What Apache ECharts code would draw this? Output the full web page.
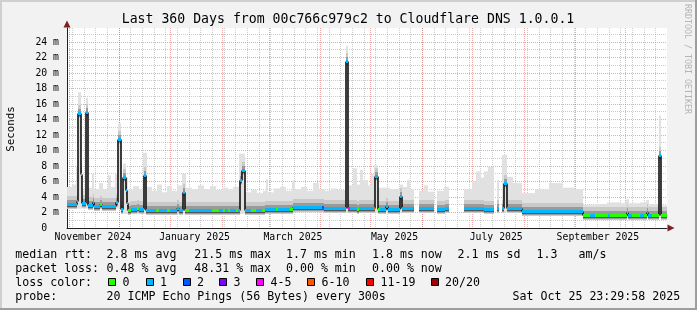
<!DOCTYPE html>
<html><head><meta charset="utf-8">
<script src="https://cdn.jsdelivr.net/npm/echarts@6/dist/echarts.min.js"></script>
<style>html,body{margin:0;padding:0;background:#f2f2f2}#c{width:697px;height:310px}</style>
</head><body><div id="c"></div>
<script>
// ---------------- data ----------------
const startTime = '2024-10-30T23:29:58';
const endTime = '2025-10-25T23:29:58';
const yMax = 25.8;

const monthStarts = ['2024-11-01','2024-12-01','2025-01-01','2025-02-01','2025-03-01','2025-04-01',
  '2025-05-01','2025-06-01','2025-07-01','2025-08-01','2025-09-01','2025-10-01'];
const firstWeekLine = '2024-11-03';
const monthLabelDates = ['2024-11-15T12:00','2025-01-15T12:00','2025-03-15T12:00','2025-05-15T12:00','2025-07-15T12:00','2025-09-14T12:00'];
const monthLabels = ['November 2024','January 2025','March 2025','May 2025','July 2025','September 2025'];

// median rtt (ms), segment start times, loss class index
const medTimes = ['2024-10-30T23:30','2024-11-06T00:00','2024-11-06T21:00','2024-11-08T02:00','2024-11-09T00:00',
 '2024-11-11T02:00','2024-11-12T14:00','2024-11-15T07:00','2024-11-16T05:00','2024-11-19T19:00',
 '2024-11-21T00:00','2024-11-29T02:00','2024-11-30T07:00','2024-12-02T02:00','2024-12-03T14:00',
 '2024-12-05T02:00','2024-12-05T17:00','2024-12-06T07:00','2024-12-08T10:00','2024-12-12T00:00',
 '2024-12-13T05:00','2024-12-15T22:00','2024-12-17T10:00','2024-12-23T10:00','2024-12-25T05:00',
 '2024-12-30T00:00','2024-12-31T19:00','2025-01-05T00:00','2025-01-05T22:00','2025-01-08T14:00',
 '2025-01-09T19:00','2025-01-12T05:00','2025-01-26T00:00','2025-01-30T05:00','2025-02-01T14:00',
 '2025-02-02T19:00','2025-02-04T14:00','2025-02-05T19:00','2025-02-09T10:00','2025-02-10T14:00',
 '2025-02-11T19:00','2025-02-12T17:00','2025-02-14T12:00','2025-02-18T10:00','2025-02-21T10:00',
 '2025-02-25T00:00','2025-02-26T19:00','2025-03-05T10:00','2025-03-06T14:00','2025-03-13T19:00',
 '2025-03-15T14:00','2025-04-02T00:00','2025-04-03T05:00','2025-04-16T02:00','2025-04-17T14:00',
 '2025-04-18T19:00','2025-04-23T00:00','2025-04-24T05:00','2025-05-02T22:00','2025-05-03T19:00',
 '2025-05-05T07:00','2025-05-06T19:00','2025-05-10T10:00','2025-05-11T14:00','2025-05-18T19:00',
 '2025-05-20T00:00','2025-05-26T07:00','2025-05-27T05:00','2025-05-29T22:00','2025-06-07T22:00',
 '2025-06-10T00:00','2025-06-12T10:00','2025-06-14T19:00','2025-06-17T05:00','2025-06-25T22:00',
 '2025-07-08T05:00','2025-07-13T22:00','2025-07-15T17:00','2025-07-17T05:00','2025-07-19T00:00',
 '2025-07-20T05:00','2025-07-21T17:00','2025-07-30T17:00','2025-09-05T19:00','2025-09-10T00:00',
 '2025-09-13T00:00','2025-09-20T19:00','2025-09-22T00:00','2025-10-01T17:00','2025-10-02T14:00',
 '2025-10-05T00:00','2025-10-09T19:00','2025-10-12T05:00','2025-10-13T17:00','2025-10-14T14:00',
 '2025-10-17T00:00','2025-10-20T22:00','2025-10-22T10:00'];
const medValues = [3.1,3.5,14.8,7.0,3.2,
 15.0,3.0,3.4,2.9,3.1,
 2.85,3.3,11.5,2.4,6.6,
 4.9,3.2,2.3,2.4,2.6,
 2.4,6.8,2.3,2.3,2.3,
 2.3,2.3,2.6,2.3,4.7,
 2.3,2.3,2.3,2.3,2.3,
 2.3,2.3,2.3,2.3,2.3,
 6.2,7.5,2.3,2.3,2.3,
 2.3,2.4,2.4,2.5,2.4,
 2.75,2.75,2.6,21.5,2.6,
 2.6,2.5,2.6,2.6,6.7,
 2.5,2.5,2.9,2.5,4.1,
 2.6,2.6,null,2.6,null,
 2.5,2.4,2.6,null,2.6,
 2.5,null,2.6,null,2.6,
 5.85,2.6,2.2,1.7,1.7,
 1.7,1.7,1.7,2.0,1.7,
 1.7,1.7,1.7,2.1,1.7,
 1.7,9.4,1.7];
const medLoss = [1,1,1,1,1,
 1,1,1,1,0,
 1,1,1,1,1,
 1,1,0,1,0,
 1,1,1,0,1,
 0,1,1,1,1,
 0,1,0,1,0,
 1,0,1,0,1,
 1,1,1,0,1,
 0,1,0,1,0,
 1,2,1,1,4,
 1,0,1,5,1,
 0,1,1,1,1,
 1,5,null,1,null,
 1,1,1,null,1,
 1,null,1,null,1,
 1,1,1,0,1,
 0,1,0,0,1,
 0,1,0,1,1,
 0,1,0];

// smoke (ping spread) : segment start, lowest and highest rtt (ms)
const smokeTimes = ['2024-10-30T23:30','2024-11-03T00:00','2024-11-05T10:00','2024-11-06T21:00','2024-11-08T02:00',
 '2024-11-09T00:00','2024-11-11T02:00','2024-11-12T14:00','2024-11-15T00:00','2024-11-16T05:00',
 '2024-11-19T05:00','2024-11-21T14:00','2024-11-24T14:00','2024-11-26T10:00','2024-11-28T19:00',
 '2024-11-30T07:00','2024-12-02T02:00','2024-12-03T07:00','2024-12-05T02:00','2024-12-06T07:00',
 '2024-12-09T14:00','2024-12-13T05:00','2024-12-15T14:00','2024-12-17T17:00','2024-12-21T00:00',
 '2024-12-24T00:00','2024-12-27T00:00','2024-12-30T00:00','2025-01-02T00:00','2025-01-05T00:00',
 '2025-01-08T00:00','2025-01-10T02:00','2025-01-14T00:00','2025-01-17T14:00','2025-01-21T05:00',
 '2025-01-24T19:00','2025-01-28T10:00','2025-02-01T00:00','2025-02-04T14:00','2025-02-07T14:00',
 '2025-02-11T05:00','2025-02-14T19:00','2025-02-18T10:00','2025-02-22T00:00','2025-02-25T14:00',
 '2025-02-27T10:00','2025-02-28T14:00','2025-03-04T05:00','2025-03-07T19:00','2025-03-11T10:00',
 '2025-03-15T00:00','2025-03-16T19:00','2025-03-20T10:00','2025-03-24T00:00','2025-03-27T14:00',
 '2025-03-31T05:00','2025-04-03T19:00','2025-04-07T10:00','2025-04-11T00:00','2025-04-16T02:00',
 '2025-04-17T14:00','2025-04-20T14:00','2025-04-23T00:00','2025-04-24T19:00','2025-04-26T14:00',
 '2025-04-29T14:00','2025-05-01T10:00','2025-05-03T05:00','2025-05-05T14:00','2025-05-12T19:00',
 '2025-05-18T12:00','2025-05-20T07:00','2025-05-23T00:00','2025-05-24T19:00','2025-05-27T05:00',
 '2025-05-29T22:00','2025-06-02T10:00','2025-06-04T19:00','2025-06-07T22:00','2025-06-10T00:00',
 '2025-06-14T05:00','2025-06-17T05:00','2025-06-25T22:00','2025-07-01T00:00','2025-07-03T10:00',
 '2025-07-06T10:00','2025-07-08T05:00','2025-07-10T14:00','2025-07-13T22:00','2025-07-15T17:00',
 '2025-07-17T05:00','2025-07-19T00:00','2025-07-21T17:00','2025-07-25T14:00','2025-07-30T17:00',
 '2025-08-08T00:00','2025-08-16T05:00','2025-08-24T00:00','2025-08-31T19:00','2025-09-05T19:00',
 '2025-09-13T00:00','2025-09-20T05:00','2025-09-28T10:00','2025-10-01T10:00','2025-10-02T22:00',
 '2025-10-09T19:00','2025-10-13T10:00','2025-10-15T05:00','2025-10-20T22:00','2025-10-22T10:00'];
const smokeLow = [2.5,2.5,2.5,2.5,2.5, 2.5,2.5,2.5,2.5,2.5, 2.5,2.5,2.5,2.5,2.5, 2.5,1.8,1.8,1.8,1.8,
 1.8,1.8,1.8,1.8,1.8, 1.8,1.8,1.8,1.8,1.8, 1.8,1.8,1.8,1.8,1.8, 1.8,1.8,1.8,1.8,1.8,
 1.8,1.8,1.8,1.8,1.8, 1.8,1.8,1.8,1.8,1.8, 2.0,2.0,2.0,2.0,2.0, 2.0,2.0,2.0,2.0,2.0,
 2.0,2.0,2.0,2.0,2.0, 2.0,2.0,2.0,2.0,2.0, 2.0,2.0,2.0,2.0,null, 2.0,2.0,2.0,null,2.0,
 2.0,null,2.0,2.0,2.0, 2.0,2.0,2.0,null,2.0, null,2.0,2.0,2.0,1.6, 1.6,1.6,1.6,1.6,1.3,
 1.3,1.3,1.3,1.3,1.3, 1.3,1.3,1.3,1.3,1.3];
const smokeHigh = [5.3,5.6,7.9,17.5,8.4, 5.0,16.8,5.2,7.0,5.0, 5.8,5.0,6.8,5.3,7.0, 13.5,5.0,8.3,6.5,5.0,
 5.4,5.0,9.7,5.3,4.8, 5.6,4.6,5.4,4.8,5.5, 7.0,5.2,5.0,5.5,5.0, 5.4,4.9,5.2,5.0,5.3,
 9.6,4.6,4.9,4.5,4.8, 6.3,4.6,5.1,5.3,4.8, 6.1,5.0,5.3,4.8,5.8, 5.0,4.8,5.1,4.9,23.5,
 5.5,7.7,5.6,7.5,6.2, 5.5,7.0,8.1,5.2,5.0, 5.6,5.3,6.2,5.0,null, 4.8,5.5,4.7,null,4.8,
 5.3,null,5.0,6.0,7.3, 6.5,7.3,7.9,null,6.2, null,9.4,6.6,5.8,4.5, 5.0,5.8,5.2,5.0,3.0,
 3.1,3.3,3.2,3.7,3.2, 3.3,3.6,3.1,14.5,2.9];

const lossColors = ['#26ff00','#00b8ff','#0059ff','#7e00ff','#ff00ff','#ff5500','#ff0000','#a10000'];
const lossLabels = ['0','1','2','3','4-5','6-10','11-19','20/20'];

const titleText = 'Last 360 Days from 00c766c979c2 to Cloudflare DNS 1.0.0.1';
const statLabels = ['median rtt:','packet loss:','loss color:','probe:'];
const rttStats = ['2.8 ms avg','21.5 ms max','1.7 ms min','1.8 ms now','2.1 ms sd','1.3   am/s'];
const lossStats = ['0.48 % avg','48.31 % max','0.00 % min','0.00 % now'];
const probeText = '20 ICMP Echo Pings (56 Bytes) every 300s';
const dateText = 'Sat Oct 25 23:29:58 2025';

// ---------------- build ----------------
const FONT = '"DejaVu Sans Mono", monospace';
const T = s => new Date(s.length === 10 ? s + 'T00:00' : s).getTime();
const tStart = T(startTime), tEnd = T(endTime);
const GRID = {left: 67, top: 28, width: 600, height: 200};
const MAJOR = 'rgba(222,79,79,0.5)', MINOR = 'rgba(143,143,143,0.45)';

const gridData = [];
for (let t = T(firstWeekLine); t < tEnd; t += 7 * 86400000) gridData.push([t, 0, 0]);
monthStarts.forEach(m => gridData.push([T(m), 0, 1]));

const smokeData = smokeTimes.map((t, i) => [T(t), i + 1 < smokeTimes.length ? T(smokeTimes[i + 1]) : tEnd, smokeLow[i], smokeHigh[i]]);
const medData = medTimes.map((t, i) => [T(t), i + 1 < medTimes.length ? T(medTimes[i + 1]) : tEnd, medValues[i], medLoss[i] == null ? 0 : medLoss[i]]);
const labelTs = monthLabelDates.map(T);

const chart = echarts.init(document.getElementById('c'), null, {renderer: 'canvas', width: 697, height: 310});

const graphics = [];
graphics.push({type: 'rect', shape: {x: 0, y: 0, width: 697, height: 2}, style: {fill: '#cfcfcf'}, silent: true});
graphics.push({type: 'rect', shape: {x: 0, y: 0, width: 2, height: 310}, style: {fill: '#cfcfcf'}, silent: true});
graphics.push({type: 'rect', shape: {x: 0, y: 308, width: 697, height: 2}, style: {fill: '#9e9e9e'}, silent: true});
graphics.push({type: 'rect', shape: {x: 695, y: 0, width: 2, height: 310}, style: {fill: '#9e9e9e'}, silent: true});
function txt(text, x, y, size, opts) {
  return Object.assign({type: 'text', x: x, y: y, silent: true, style: Object.assign({text: text, font: size + 'px ' + FONT, fill: '#000',
    align: 'left', verticalAlign: 'middle'}, (opts && opts.style) || {})}, (opts && opts.el) || {});
}
graphics.push(txt(titleText, 348, 19.5, 13.2, {style: {align: 'center'}}));
graphics.push(txt('Seconds', 11, 129, 10.8, {style: {align: 'center'}, el: {rotation: Math.PI / 2}}));
graphics.push(txt('RRDTOOL / TOBI OETIKER', 687.5, 4, 8.3, {style: {fill: '#b4b4b4'}, el: {rotation: -Math.PI / 2}}));
graphics.push({type: 'polygon', shape: {points: [[63.5, 27.5], [67, 20.5], [70.5, 27.5]]}, style: {fill: '#801f1f'}, silent: true});
graphics.push({type: 'polygon', shape: {points: [[667.5, 224.5], [674.5, 228], [667.5, 231.5]]}, style: {fill: '#801f1f'}, silent: true});
const rowY = [254.5, 268.5, 282.5, 296.5];
const colX = [106.6, 194.3, 286, 372, 457.6, 536.6];
statLabels.forEach((s, i) => graphics.push(txt(s, 15.3, rowY[i], 11.6)));
rttStats.forEach((s, i) => graphics.push(txt(s, colX[i], rowY[0], 11.6)));
lossStats.forEach((s, i) => graphics.push(txt(s, colX[i], rowY[1], 11.6)));
const boxX = [108, 145.5, 182.5, 219, 256, 307, 366, 430.5];
lossLabels.forEach((s, i) => {
  graphics.push({type: 'rect', shape: {x: Math.round(boxX[i]) + 0.5, y: 278.5, width: 7, height: 7}, style: {fill: lossColors[i], stroke: '#000', lineWidth: 1}, silent: true});
  graphics.push(txt(s, boxX[i] + 14.5, rowY[2], 11.6));
});
graphics.push(txt(probeText, colX[0], rowY[3], 11.6));
graphics.push(txt(dateText, 512.6, rowY[3], 11.6));

const option = {
  animation: false,
  backgroundColor: '#f2f2f2',
  grid: Object.assign({show: true, backgroundColor: '#ffffff', borderWidth: 0}, GRID),
  xAxis: {
    type: 'value', min: tStart, max: tEnd, scale: true,
    axisLine: {show: true, onZero: false, lineStyle: {color: '#1f1f1f', width: 1}},
    axisTick: {show: false},
    splitLine: {show: false},
    axisLabel: {
      customValues: labelTs, hideOverlap: false,
      fontFamily: FONT, fontSize: 9.8, color: '#000', margin: 4,
      formatter: function (v) {
        let best = 0;
        labelTs.forEach((t, i) => { if (Math.abs(t - v) < Math.abs(labelTs[best] - v)) best = i; });
        return monthLabels[best];
      }
    }
  },
  yAxis: {
    type: 'value', min: 0, max: yMax, interval: 1,
    axisLine: {show: true, lineStyle: {color: '#1f1f1f', width: 1}},
    axisTick: {show: false},
    axisLabel: {
      fontFamily: FONT, fontSize: 9.8, color: '#000', margin: 8, showMaxLabel: false,
      formatter: v => (Math.round(v) % 2 !== 0 || v > 24.5) ? '' : (v === 0 ? '0  ' : Math.round(v) + ' m')
    },
    splitLine: {show: true, showMaxLine: false, lineStyle: {color: [MAJOR, MINOR], type: [1, 1], width: 1}}
  },
  series: [
    {
      type: 'custom', z: 1, silent: true, encode: {x: 0, y: 1}, data: gridData,
      renderItem: function (params, api) {
        const x = Math.round(api.coord([api.value(0), 0])[0]) + 0.5;
        const cs = params.coordSys;
        return {type: 'line', shape: {x1: x, y1: cs.y, x2: x, y2: cs.y + cs.height},
          style: {stroke: api.value(2) ? MAJOR : MINOR, lineWidth: 1, lineDash: [1, 1]}};
      }
    },
    {
      type: 'custom', z: 2, silent: true, encode: {x: [0, 1], y: [2, 3]}, data: smokeData,
      renderItem: function (params, api) {
        const lo = api.value(2), hi = api.value(3);
        if (isNaN(lo) || isNaN(hi)) return null;
        const a = api.coord([api.value(0), hi]), b = api.coord([api.value(1), lo]);
        const x0 = Math.round(a[0]), x1 = Math.round(b[0]);
        return {type: 'rect', shape: {x: x0, y: a[1], width: x1 - x0, height: b[1] - a[1]}, style: {fill: '#e1e1e1'}};
      }
    },
    {
      type: 'custom', z: 3, silent: true, encode: {x: [0, 1], y: 2}, data: medData,
      renderItem: function (params, api) {
        const v = api.value(2);
        if (isNaN(v)) return null;
        const p0 = api.coord([api.value(0), v]), p1 = api.coord([api.value(1), v]);
        const x0 = Math.round(p0[0]), x1 = Math.round(p1[0]), y = Math.round(p0[1]);
        return {type: 'group', children: [
          {type: 'rect', shape: {x: x0, y: y - 8, width: x1 - x0, height: 13}, style: {fill: '#c9c9c9'}},
          {type: 'rect', shape: {x: x0, y: y - 4, width: x1 - x0, height: 8}, style: {fill: '#9a9a9a'}},
          {type: 'rect', shape: {x: x0, y: y, width: x1 - x0, height: 3}, style: {fill: '#555555'}}
        ]};
      }
    },
    {
      type: 'custom', z: 4, silent: true, encode: {x: [0, 1], y: 2}, data: medData,
      renderItem: function (params, api) {
        const i = params.dataIndex;
        const v = api.value(2);
        if (isNaN(v)) return null;
        const p0 = api.coord([api.value(0), v]), p1 = api.coord([api.value(1), v]);
        const x0 = Math.round(p0[0]), x1 = Math.round(p1[0]), y = Math.round(p0[1]) + 0.5;
        const children = [];
        const nv = medValues[i + 1];
        if (i + 1 < medValues.length && nv != null && nv !== v) {
          const q = api.coord([api.value(1), nv]);
          children.push({type: 'line', z2: 1, shape: {x1: x1, y1: y, x2: x1, y2: Math.round(q[1]) + 0.5}, style: {stroke: '#111', lineWidth: 1.6}});
        }
        children.push({type: 'line', z2: 2, shape: {x1: x0, y1: y, x2: x1, y2: y}, style: {stroke: lossColors[api.value(3)], lineWidth: 3}});
        return {type: 'group', children: children};
      }
    }
  ],
  graphic: {elements: graphics}
};
chart.setOption(option);
</script></body></html>
